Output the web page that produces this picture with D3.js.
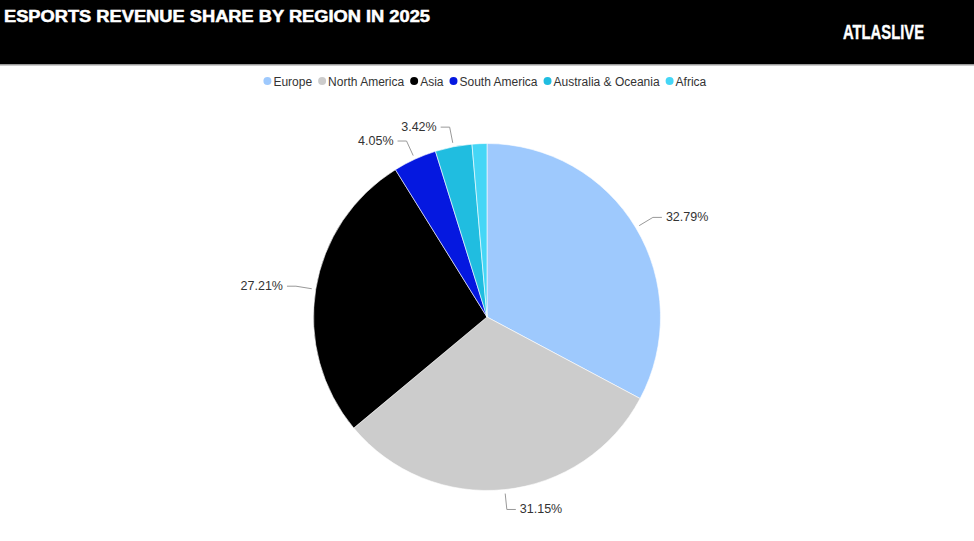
<!DOCTYPE html>
<html><head><meta charset="utf-8">
<script src="https://cdn.jsdelivr.net/npm/d3@7"></script>
<style>body{margin:0;background:#fff;}svg{display:block;font-family:"Liberation Sans",Arial,sans-serif;}</style>
</head><body>
<svg id="c" width="974" height="541"></svg>
<script>
const categories = ["Europe","North America","Asia","South America","Australia & Oceania","Africa"];
const values = [32.79,31.15,27.21,4.05,3.42,1.38];
const colors = ["#9ec9fd","#cccccc","#000000","#0518e0","#20bde0","#45d6f6"];
const showLabel = [true,true,true,true,true,false];

const svg = d3.select("#c");
const W = 974, H = 541;

// header
svg.append("rect").attr("x",0).attr("y",0).attr("width",W).attr("height",65).attr("fill","#000");
svg.append("rect").attr("x",0).attr("y",64).attr("width",W).attr("height",1.5).attr("fill","#9a9a9a");
svg.append("text").attr("x",4).attr("y",21.5).attr("fill","#fff")
  .attr("stroke","#fff").attr("stroke-width",0.5)
  .attr("font-weight","bold").attr("font-size",16)
  .attr("textLength",426).attr("lengthAdjust","spacingAndGlyphs")
  .text("ESPORTS REVENUE SHARE BY REGION IN 2025");
svg.append("text").attr("x",843).attr("y",39).attr("fill","#fff")
  .attr("stroke","#fff").attr("stroke-width",0.4)
  .attr("font-weight","bold").attr("font-size",20)
  .attr("textLength",81).attr("lengthAdjust","spacingAndGlyphs")
  .text("ATLASLIVE");

// legend
const legend = svg.append("g").attr("font-size",12).attr("fill","#333");
let lx = 263;
categories.forEach((c,i)=>{
  legend.append("circle").attr("cx",lx+4).attr("cy",81).attr("r",4).attr("fill",colors[i]);
  const t = legend.append("text").attr("x",lx+10).attr("y",85.5).attr("fill","#333").text(c);
  const w = t.node().getComputedTextLength();
  lx += 10 + w + 6;
});
const lb = legend.node().getBBox();
legend.attr("transform",`translate(${(263+707)/2 - (lb.x+lb.width/2)},0)`);

// pie
const cx = 487, cy = 317, R = 173.5;
const pie = d3.pie().sort(null).value(d=>d)(values);
const arc = d3.arc().innerRadius(0).outerRadius(R);
const g = svg.append("g").attr("transform",`translate(${cx},${cy})`);
g.selectAll("path").data(pie).join("path")
  .attr("d",arc).attr("fill",(d,i)=>colors[i])
  .attr("stroke","#fff").attr("stroke-width",0.6);

// labels with leader lines
const fmt = v=>v.toFixed(2)+"%";
const lab = g.append("g");
pie.forEach((d,i)=>{
  if(!showLabel[i]) return;
  const a = (d.startAngle+d.endAngle)/2;
  const sx = Math.sin(a), sy = -Math.cos(a);
  const p0 = [sx*(R+4), sy*(R+4)];
  const p1 = [sx*(R+20), sy*(R+20)];
  const right = sx >= 0;
  const p2 = [p1[0] + (right?9:-9), p1[1]];
  lab.append("polyline").attr("points",[p0,p1,p2].map(p=>p.join(",")).join(" "))
    .attr("fill","none").attr("stroke","#999").attr("stroke-width",1);
  lab.append("text").attr("x",p2[0]+(right?4:-4)).attr("y",p2[1]+4)
    .attr("text-anchor",right?"start":"end").attr("font-size",12.5).attr("fill","#333")
    .text(fmt(values[i]));
});
</script>
</body></html>
